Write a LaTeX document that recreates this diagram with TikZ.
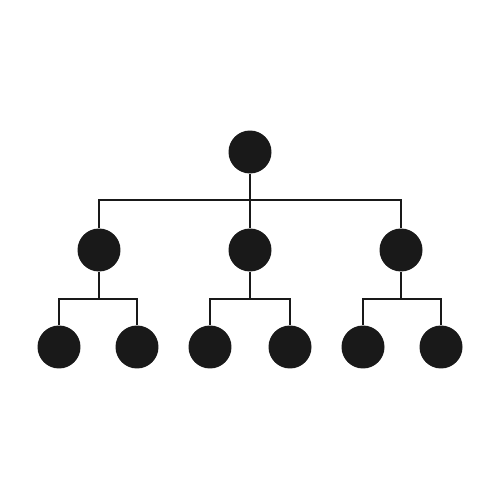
\documentclass[tikz,border=0pt]{standalone}
\begin{document}
\begin{tikzpicture}[x=0.02cm,y=-0.02cm,line width=0.04cm,
        dot/.style={circle,fill=black!90,minimum size=0.86cm,inner sep=0pt}]
        \useasboundingbox[fill=white](0,0) rectangle (500,500);
        \node[dot](root) at (250,152){};
        \node[dot](a) at (99,250){};
        \node[dot](b) at (250,250){};
        \node[dot](c) at (401,250){};
        \node[dot](a1) at (59,347){};
        \node[dot](a2) at (137,347){};
        \node[dot](b1) at (210,347){};
        \node[dot](b2) at (290,347){};
        \node[dot](c1) at (363,347){};
        \node[dot](c2) at (441,347){};
        \coordinate(j) at (250,200);
        \coordinate(ja) at (99,299);
        \coordinate(jb) at (250,299);
        \coordinate(jc) at (401,299);
        \draw[black!90](root)--(j);
        \draw[black!90](a)|-(j)-|(c);
        \draw[black!90](j)--(b);
        \foreach \p in {a,b,c}{
            \draw[black!90](\p)--(j\p);
            \draw[black!90](\p1)|-(j\p)-|(\p2);
        }
    \end{tikzpicture}
\end{document}
